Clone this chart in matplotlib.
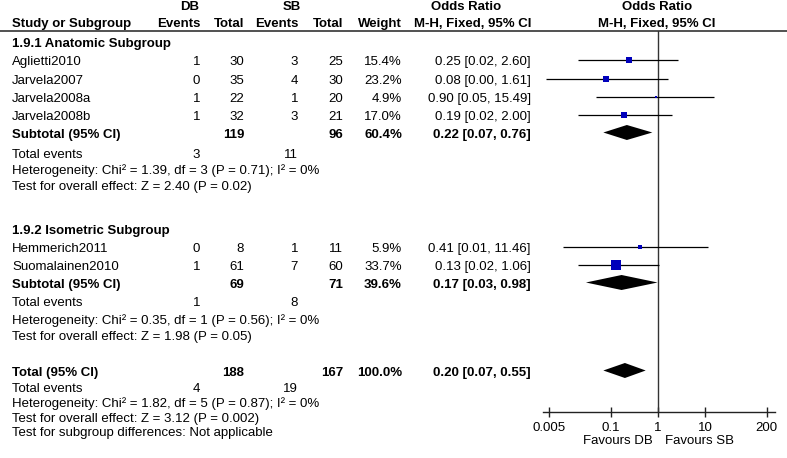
# Forest plot: DB vs SB, odds ratios by subgroup (RevMan style)
import matplotlib.pyplot as plt

plt.rcParams['font.family'] = ['Liberation Sans', 'DejaVu Sans']

# 1.9.1 Anatomic Subgroup
ana_names = ["Aglietti2010", "Jarvela2007", "Jarvela2008a", "Jarvela2008b"]
ana_db_events = [1, 0, 1, 1]
ana_db_total = [30, 35, 22, 32]
ana_sb_events = [3, 4, 1, 3]
ana_sb_total = [25, 30, 20, 21]
ana_weight = [15.4, 23.2, 4.9, 17.0]
ana_or = [0.25, 0.08, 0.90, 0.19]
ana_lo = [0.02, 0.0043, 0.05, 0.02]
ana_hi = [2.60, 1.61, 15.49, 2.00]
ana_sub = dict(db_total=119, sb_total=96, weight=60.4, orr=0.22, lo=0.07, hi=0.76,
               db_events=3, sb_events=11)
ana_het = "Heterogeneity: Chi² = 1.39, df = 3 (P = 0.71); I² = 0%"
ana_test = "Test for overall effect: Z = 2.40 (P = 0.02)"

# 1.9.2 Isometric Subgroup
iso_names = ["Hemmerich2011", "Suomalainen2010"]
iso_db_events = [0, 1]
iso_db_total = [8, 61]
iso_sb_events = [1, 7]
iso_sb_total = [11, 60]
iso_weight = [5.9, 33.7]
iso_or = [0.41, 0.13]
iso_lo = [0.01, 0.02]
iso_hi = [11.46, 1.06]
iso_sub = dict(db_total=69, sb_total=71, weight=39.6, orr=0.17, lo=0.03, hi=0.98,
               db_events=1, sb_events=8)
iso_het = "Heterogeneity: Chi² = 0.35, df = 1 (P = 0.56); I² = 0%"
iso_test = "Test for overall effect: Z = 1.98 (P = 0.05)"

# Overall
tot = dict(db_total=188, sb_total=167, weight=100.0, orr=0.20, lo=0.07, hi=0.55,
           db_events=4, sb_events=19)
tot_het = "Heterogeneity: Chi² = 1.82, df = 5 (P = 0.87); I² = 0%"
tot_test = "Test for overall effect: Z = 3.12 (P = 0.002)"
sub_diff = "Test for subgroup differences: Not applicable"

tick_vals = [0.005, 0.1, 1, 10, 200]
tick_labels = ["0.005", "0.1", "1", "10", "200"]

# layout (pixel units)
W, H = 787, 458
FS = 9.5
x_name, x_dbe, x_dbt, x_sbe, x_sbt, x_w, x_or = 12, 200, 244, 298, 343, 402, 531
line_y = 30.5
axis_y = 412
blue = '#0000BB'

fig = plt.figure(figsize=(W / 100, H / 100), dpi=100)
tx = fig.add_axes([0, 0, 1, 1])
tx.set_xlim(0, W)
tx.set_ylim(H, 0)
tx.axis('off')

fx = fig.add_axes([543 / W, (H - axis_y) / H, (775 - 543) / W, (axis_y - line_y) / H])
fx.set_xscale('log')
fx.set_xlim(0.00371, 298)
fx.set_ylim(axis_y, line_y)
fx.patch.set_visible(False)
for s in ['top', 'left', 'right']:
    fx.spines[s].set_visible(False)
fx.spines['bottom'].set_color('#222222')
fx.spines['bottom'].set_linewidth(1.0)
fx.set_yticks([])
fx.set_xticks(tick_vals)
fx.set_xticklabels(tick_labels)
fx.minorticks_off()
fx.tick_params(axis='x', direction='inout', length=7, width=1, color='#222222',
               labelsize=FS, pad=3.5)
fx.axvline(1, color='#333333', lw=1)


def txt(x, y, s, ha='right', bold=False):
    tx.text(x, y + 1, s, ha=ha, va='center', fontsize=FS, color='black',
            fontweight='bold' if bold else 'normal')


# headers
txt(190, 6, "DB", ha='center', bold=True)
txt(292, 6, "SB", ha='center', bold=True)
txt(466, 6, "Odds Ratio", ha='center', bold=True)
txt(657, 6, "Odds Ratio", ha='center', bold=True)
txt(x_name, 23, "Study or Subgroup", ha='left', bold=True)
txt(x_dbe, 23, "Events", bold=True)
txt(x_dbt, 23, "Total", bold=True)
txt(x_sbe, 23, "Events", bold=True)
txt(x_sbt, 23, "Total", bold=True)
txt(x_w, 23, "Weight", bold=True)
txt(x_or, 23, "M-H, Fixed, 95% CI", bold=True)
txt(657, 23, "M-H, Fixed, 95% CI", ha='center', bold=True)
tx.plot([0, W], [line_y, line_y], color='#333333', lw=1.2)


def study_rows(ys, names, dbe, dbt, sbe, sbt, wt, orr, lo, hi):
    for i, y in enumerate(ys):
        txt(x_name, y, names[i], ha='left')
        txt(x_dbe, y, str(dbe[i]))
        txt(x_dbt, y, str(dbt[i]))
        txt(x_sbe, y, str(sbe[i]))
        txt(x_sbt, y, str(sbt[i]))
        txt(x_w, y, f"{wt[i]:.1f}%")
        txt(x_or, y, f"{orr[i]:.2f} [{lo[i]:.2f}, {hi[i]:.2f}]")
        fy = y - 1.5
        fx.plot([lo[i], hi[i]], [fy, fy], color='black', lw=0.9, solid_capstyle='butt')
        side = 0.22 * wt[i] + 1.8
        fx.plot(orr[i], fy, marker='s', ms=side * 0.72, color=blue, mec=blue, mew=0)


def summary_rows(y, label, s, events_y, het, het_y, test, test_y):
    txt(x_name, y, label, ha='left', bold=True)
    txt(x_dbt, y, str(s['db_total']), bold=True)
    txt(x_sbt, y, str(s['sb_total']), bold=True)
    txt(x_w, y, f"{s['weight']:.1f}%", bold=True)
    txt(x_or, y, f"{s['orr']:.2f} [{s['lo']:.2f}, {s['hi']:.2f}]", bold=True)
    fy = y - 1.5
    fx.fill([s['lo'], s['orr'], s['hi'], s['orr']], [fy, fy - 7.5, fy, fy + 7.5],
            color='black', lw=0)
    txt(x_name, events_y, "Total events", ha='left')
    txt(x_dbe, events_y, str(s['db_events']))
    txt(x_sbe, events_y, str(s['sb_events']))
    txt(x_name, het_y, het, ha='left')
    txt(x_name, test_y, test, ha='left')


txt(x_name, 43, "1.9.1 Anatomic Subgroup", ha='left', bold=True)
study_rows([61, 80, 98, 116], ana_names, ana_db_events, ana_db_total, ana_sb_events,
           ana_sb_total, ana_weight, ana_or, ana_lo, ana_hi)
summary_rows(134, "Subtotal (95% CI)", ana_sub, 154, ana_het, 170, ana_test, 186)

txt(x_name, 230, "1.9.2 Isometric Subgroup", ha='left', bold=True)
study_rows([248, 266], iso_names, iso_db_events, iso_db_total, iso_sb_events,
           iso_sb_total, iso_weight, iso_or, iso_lo, iso_hi)
summary_rows(284, "Subtotal (95% CI)", iso_sub, 302, iso_het, 320, iso_test, 336)

summary_rows(372, "Total (95% CI)", tot, 388, tot_het, 403, tot_test, 418)
txt(x_name, 432, sub_diff, ha='left')

txt(653, 440, "Favours DB", ha='right')
txt(665, 440, "Favours SB", ha='left')

plt.savefig("out.png", dpi=100)
